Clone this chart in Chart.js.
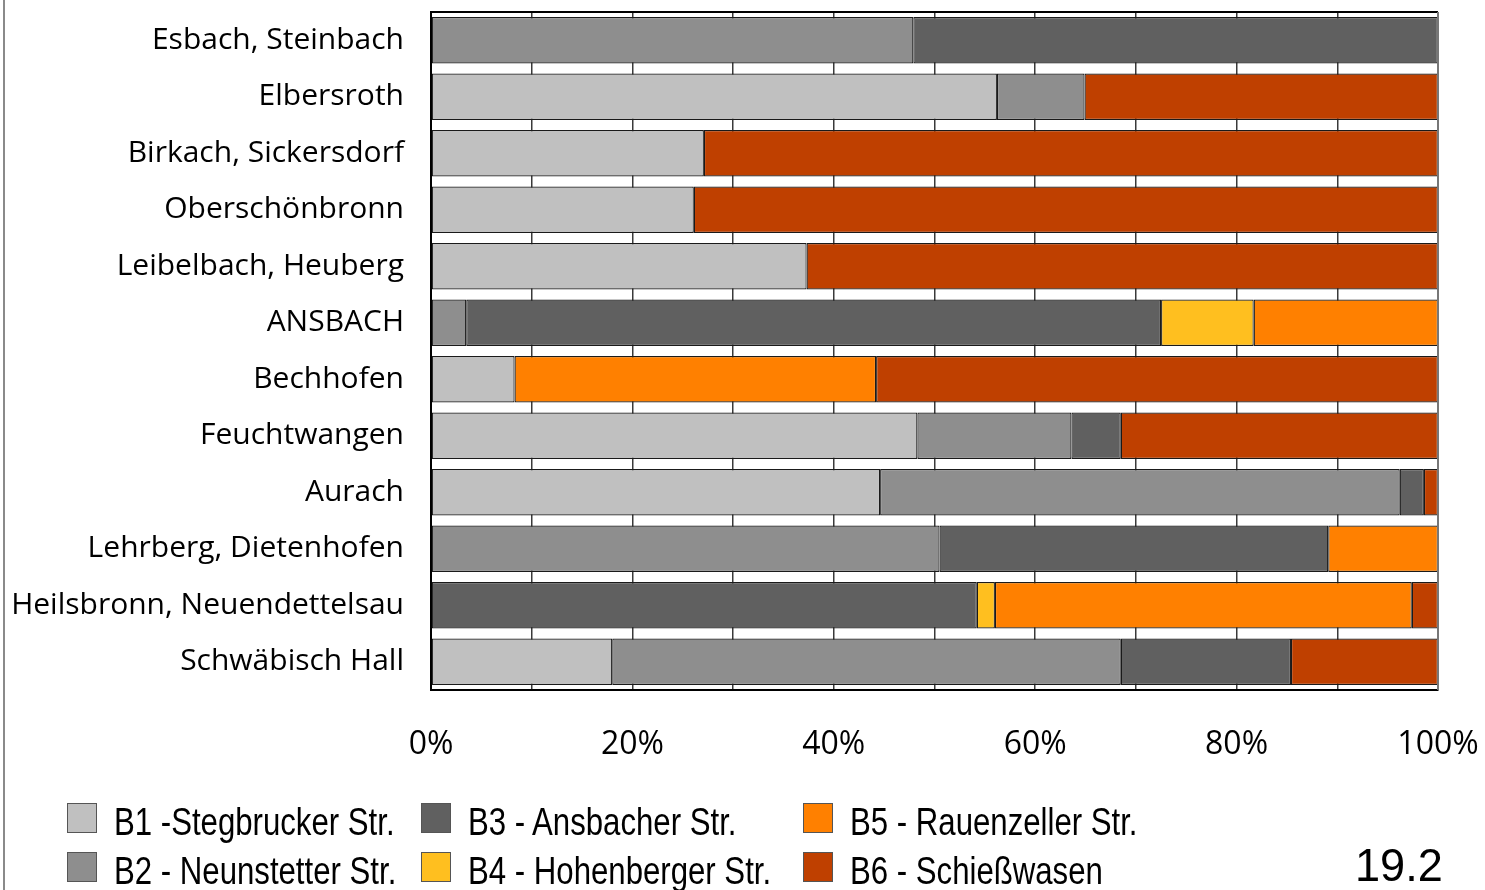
<!DOCTYPE html>
<html><head><meta charset="utf-8">
<script src="https://cdn.jsdelivr.net/npm/chart.js@4/dist/chart.umd.min.js"></script>
<style>
html,body{margin:0;padding:0;background:#fff;}
#wrap{position:relative;width:1485px;height:890px;overflow:hidden;}
#frame{position:absolute;left:3px;top:0;width:2px;height:890px;background:#8a8a8a;}
canvas{position:absolute;left:0;top:0;}
.lg{position:absolute;height:34px;display:flex;align-items:center;white-space:nowrap;}
.sw{width:30px;height:30px;border:1px solid #555;box-sizing:border-box;margin-right:17px;flex:none;}
.tx{font-family:"Liberation Sans",Arial,sans-serif;font-size:38px;color:#000;display:inline-block;transform:scaleX(0.82);transform-origin:left center;}
#num{position:absolute;left:1355px;top:842px;font-family:"Liberation Sans",Arial,sans-serif;font-size:46px;transform:scaleX(0.98);transform-origin:left top;line-height:46px;}
</style></head>
<body><div id="wrap"><div id="frame"></div><canvas id="c" width="1485" height="890"></canvas><div id="legend"></div><div id="num">19.2</div></div>
<script>
const categories = ["Esbach, Steinbach","Elbersroth","Birkach, Sickersdorf","Oberschönbronn","Leibelbach, Heuberg","ANSBACH","Bechhofen","Feuchtwangen","Aurach","Lehrberg, Dietenhofen","Heilsbronn, Neuendettelsau","Schwäbisch Hall"];
const seriesNames = ["B1 -Stegbrucker Str.","B2 - Neunstetter Str.","B3 - Ansbacher Str.","B4 - Hohenberger Str.","B5 - Rauenzeller Str.","B6 - Schießwasen"];
const b1 = [0,56.2,27.1,26.1,37.3,0,8.3,48.3,44.6,0,0,18.0];
const b2 = [47.9,8.7,0,0,0,3.5,0,15.3,51.6,50.5,0,50.5];
const b3 = [52.1,0,0,0,0,69.0,0,4.9,2.4,38.6,54.2,16.9];
const b4 = [0,0,0,0,0,9.2,0,0,0,0,1.8,0];
const b5 = [0,0,0,0,0,18.3,35.9,0,0,10.9,41.4,0];
const b6 = [0,35.1,72.9,73.9,62.7,0,55.8,31.5,1.4,0,2.6,14.6];
const xTicks = [0,20,40,60,80,100];

const colors = ["#c0c0c0","#8e8e8e","#606060","#ffbf1f","#ff8000","#bf4000"];
const series = [b1,b2,b3,b4,b5,b6];

const frameBox = {
  id:'frameBox',
  afterDatasetsDraw(chart){
    const a = chart.chartArea, ctx = chart.ctx;
    ctx.save();
    ctx.strokeStyle = '#000'; ctx.lineWidth = 2;
    ctx.beginPath(); ctx.moveTo(a.left, a.top); ctx.lineTo(a.right, a.top); ctx.stroke();
    ctx.strokeStyle = '#777'; ctx.lineWidth = 2;
    ctx.beginPath(); ctx.moveTo(a.right, a.top); ctx.lineTo(a.right, a.bottom); ctx.stroke();
    ctx.restore();
  }
};

new Chart(document.getElementById('c'), {
  type:'bar',
  data:{
    labels: categories,
    datasets: series.map((s,i)=>({
      label: seriesNames[i],
      data: s.map(v => v || null),
      backgroundColor: colors[i],
      borderColor: '#1a1a1a',
      borderWidth: 1.2,
      borderSkipped: false,
      barPercentage: 0.82,
      categoryPercentage: 1.0
    }))
  },
  options:{
    indexAxis:'y',
    responsive:false,
    animation:false,
    layout:{padding:{left:0,right:47,top:12,bottom:120}},
    plugins:{legend:{display:false},tooltip:{enabled:false}},
    scales:{
      x:{
        stacked:true, min:0, max:100,
        afterFit(s){ s.height = 80; s.paddingLeft = 0; s.paddingRight = 0; },
        ticks:{stepSize:10, autoSkip:false, maxRotation:0, padding:36,
          color:'#000', font:{family:'"Open Sans", sans-serif', size:32},
          callback:(v)=> xTicks.includes(v) ? v + '%' : ''},
        grid:{color:'#3a3a3a', lineWidth:1.5, drawTicks:false},
        border:{color:'#000', width:2}
      },
      y:{
        stacked:true,
        afterFit(s){ s.width = 431; s.paddingTop = 0; s.paddingBottom = 0; },
        ticks:{padding:27, color:'#000', font:{family:'"Open Sans", sans-serif', size:30}},
        grid:{display:false, drawTicks:false},
        border:{color:'#000', width:2}
      }
    }
  },
  plugins:[frameBox]
});

// HTML legend (column-major, 3 columns x 2 rows)
const legendPos = [[67,801],[67,850],[421,801],[421,850],[803,801],[803,850]];
const lg = document.getElementById('legend');
seriesNames.forEach((n,i)=>{
  const d = document.createElement('div');
  d.className='lg';
  d.style.left = legendPos[i][0]+'px';
  d.style.top = legendPos[i][1]+'px';
  d.innerHTML = '<span class="sw" style="background:'+colors[i]+'"></span><span class="tx" style="position:relative;top:4px">'+n+'</span>';
  lg.appendChild(d);
});
</script>
</body></html>
